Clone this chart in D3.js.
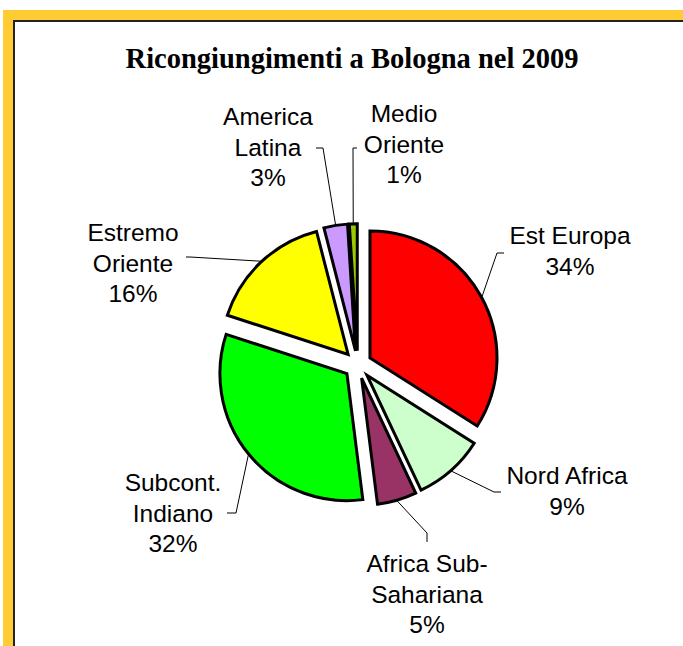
<!DOCTYPE html>
<html>
<head>
<meta charset="utf-8">
<script src="https://cdn.jsdelivr.net/npm/d3@7"></script>
<style>
  html, body { margin: 0; padding: 0; background: #fff; }
  svg { display: block; }
</style>
</head>
<body>
<svg id="chart" width="683" height="646"></svg>
<script>
// ---- data ----
const categories = ["Est Europa", "Nord Africa", "Africa Sub-Sahariana", "Subcont. Indiano", "Estremo Oriente", "America Latina", "Medio Oriente"];
const labelLines = [["Est Europa"], ["Nord Africa"], ["Africa Sub-", "Sahariana"], ["Subcont.", "Indiano"], ["Estremo", "Oriente"], ["America", "Latina"], ["Medio", "Oriente"]];
const values = [34, 9, 5, 32, 16, 3, 1];
const colors = ["#FF0000", "#CCFFCC", "#993366", "#00FF00", "#FFFF00", "#CC99FF", "#99CC00"];
const title = "Ricongiungimenti a Bologna nel 2009";

// ---- layout (label anchors & leader elbows) ----
const labelLayout = [
  { x: 570, y: 244, elbow: [[497, 253], [504, 253]] },
  { x: 567, y: 484, elbow: [[494, 492], [501, 492]] },
  { x: 427, y: 572, elbow: [[427, 533], [427, 542]] },
  { x: 173, y: 491, elbow: [[236, 513], [227, 513]] },
  { x: 133, y: 241, elbow: [[190, 257], [186, 257]] },
  { x: 268, y: 125, elbow: [[323, 148], [316, 148]] },
  { x: 404, y: 122, elbow: [[353, 148], [357, 148]] }
];

const svg = d3.select("#chart");
const W = 683, H = 646;

// frame
const gold = "#FFCC33";
svg.append("rect").attr("x", 3).attr("y", 10).attr("width", W - 3).attr("height", 10).attr("fill", gold);
svg.append("rect").attr("x", 3).attr("y", 10).attr("width", 10).attr("height", H - 10).attr("fill", gold);
svg.append("rect").attr("x", 13).attr("y", 20).attr("width", W - 13).attr("height", 2).attr("fill", "#222");
svg.append("rect").attr("x", 13).attr("y", 20).attr("width", 2).attr("height", H - 20).attr("fill", "#222");

// title
svg.append("text")
  .attr("x", 352).attr("y", 68)
  .attr("text-anchor", "middle")
  .attr("font-family", "'Liberation Serif', 'Times New Roman', serif")
  .attr("font-weight", "bold")
  .attr("font-size", 28.5)
  .attr("fill", "#000")
  .text(title);

// pie
const cx = 357.7, cy = 364.7, R = 127, explode = 14;
const pie = d3.pie().sort(null).value(d => d)(values);
const arc = d3.arc().innerRadius(0).outerRadius(R);

const g = svg.append("g").attr("transform", `translate(${cx},${cy})`);

function dirOf(d) {
  const a = (d.startAngle + d.endAngle) / 2;
  return [Math.sin(a), -Math.cos(a)];
}

g.selectAll("path.slice")
  .data(pie)
  .join("path")
  .attr("class", "slice")
  .attr("d", arc)
  .attr("transform", d => { const [dx, dy] = dirOf(d); return `translate(${dx * explode},${dy * explode})`; })
  .attr("fill", (d, i) => colors[i])
  .attr("stroke", "#000")
  .attr("stroke-width", 3)
  .attr("stroke-linejoin", "miter");

// leader lines
const line = d3.line();
pie.forEach((d, i) => {
  const [dx, dy] = dirOf(d);
  const start = [cx + dx * (explode + R + 1), cy + dy * (explode + R + 1)];
  const pts = [start].concat(labelLayout[i].elbow);
  svg.append("path")
    .attr("d", line(pts))
    .attr("fill", "none")
    .attr("stroke", "#000")
    .attr("stroke-width", 1);
});

// labels
const fontSize = 24.5, lh = 30.5;
pie.forEach((d, i) => {
  const L = labelLayout[i];
  const lines = labelLines[i].concat([Math.round(values[i]) + "%"]);
  const t = svg.append("text")
    .attr("text-anchor", "middle")
    .attr("font-family", "'Liberation Sans', Arial, sans-serif")
    .attr("font-size", fontSize)
    .attr("fill", "#000");
  lines.forEach((s, k) => {
    t.append("tspan").attr("x", L.x).attr("y", L.y + k * lh).text(s);
  });
});
</script>
</body>
</html>
